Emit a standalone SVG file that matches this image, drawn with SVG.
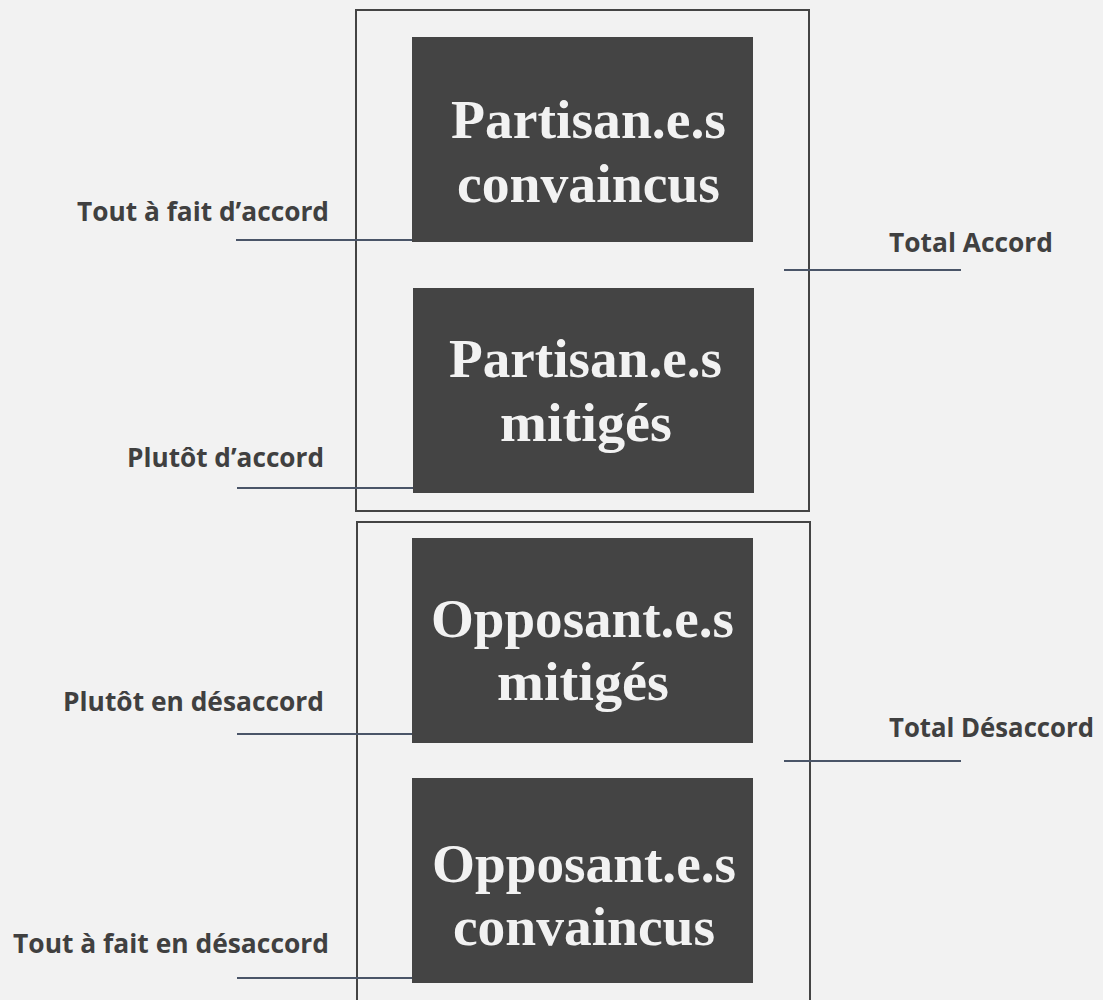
<svg xmlns="http://www.w3.org/2000/svg" width="1103" height="1000" viewBox="0 0 1103 1000">
<style>
.frame{fill:none;stroke:#444;stroke-width:2}
.box{fill:#444}
.title{font-family:"Liberation Serif","DejaVu Serif",serif;font-weight:bold;font-size:55px;fill:#f2f2f2}
.lbl{font-family:"Open Sans","Noto Sans",sans-serif;font-weight:bold;font-size:27px;fill:#404040}
.conn{stroke:#4a5568;stroke-width:2;fill:none}
</style>
<rect x="0" y="0" width="1103" height="1000" fill="#f2f2f2"/>
<g id="frame-accord"><rect class="frame" x="356" y="10" width="453" height="501"/></g>
<g id="frame-desaccord"><rect class="frame" x="357" y="522" width="453" height="500"/></g>
<g id="connectors">
<line class="conn" x1="236" y1="240" x2="413" y2="240"/>
<line class="conn" x1="237" y1="488" x2="414" y2="488"/>
<line class="conn" x1="237" y1="734" x2="413" y2="734"/>
<line class="conn" x1="237" y1="978" x2="413" y2="978"/>
<line class="conn" x1="784" y1="270" x2="961" y2="270"/>
<line class="conn" x1="784" y1="761" x2="961" y2="761"/>
</g>
<g id="node-partisans-convaincus">
<rect class="box" x="412" y="37" width="341" height="205"/>
<text class="title" x="451" y="138" textLength="275" lengthAdjust="spacingAndGlyphs">Partisan.e.s</text>
<text class="title" x="457" y="202" textLength="263" lengthAdjust="spacingAndGlyphs">convaincus</text>
</g>
<g id="node-partisans-mitiges">
<rect class="box" x="413" y="288" width="341" height="205"/>
<text class="title" x="449" y="377" textLength="273" lengthAdjust="spacingAndGlyphs">Partisan.e.s</text>
<text class="title" x="500" y="441" textLength="172" lengthAdjust="spacingAndGlyphs">mitigés</text>
</g>
<g id="node-opposants-mitiges">
<rect class="box" x="412" y="538" width="341" height="205"/>
<text class="title" x="431" y="637" textLength="303" lengthAdjust="spacingAndGlyphs">Opposant.e.s</text>
<text class="title" x="497" y="700" textLength="172" lengthAdjust="spacingAndGlyphs">mitigés</text>
</g>
<g id="node-opposants-convaincus">
<rect class="box" x="412" y="778" width="341" height="205"/>
<text class="title" x="432" y="882" textLength="304" lengthAdjust="spacingAndGlyphs">Opposant.e.s</text>
<text class="title" x="453" y="945" textLength="262" lengthAdjust="spacingAndGlyphs">convaincus</text>
</g>
<g id="label-tout-accord"><text class="lbl" x="77" y="221" textLength="252" lengthAdjust="spacingAndGlyphs">Tout à fait d’accord</text></g>
<g id="label-plutot-accord"><text class="lbl" x="127" y="467" textLength="197" lengthAdjust="spacingAndGlyphs">Plutôt d’accord</text></g>
<g id="label-plutot-desaccord"><text class="lbl" x="63" y="711" textLength="261" lengthAdjust="spacingAndGlyphs">Plutôt en désaccord</text></g>
<g id="label-tout-desaccord"><text class="lbl" x="13" y="953" textLength="316" lengthAdjust="spacingAndGlyphs">Tout à fait en désaccord</text></g>
<g id="label-total-accord"><text class="lbl" x="889" y="252" textLength="164" lengthAdjust="spacingAndGlyphs">Total Accord</text></g>
<g id="label-total-desaccord"><text class="lbl" x="889" y="737" textLength="205" lengthAdjust="spacingAndGlyphs">Total Désaccord</text></g>
</svg>
